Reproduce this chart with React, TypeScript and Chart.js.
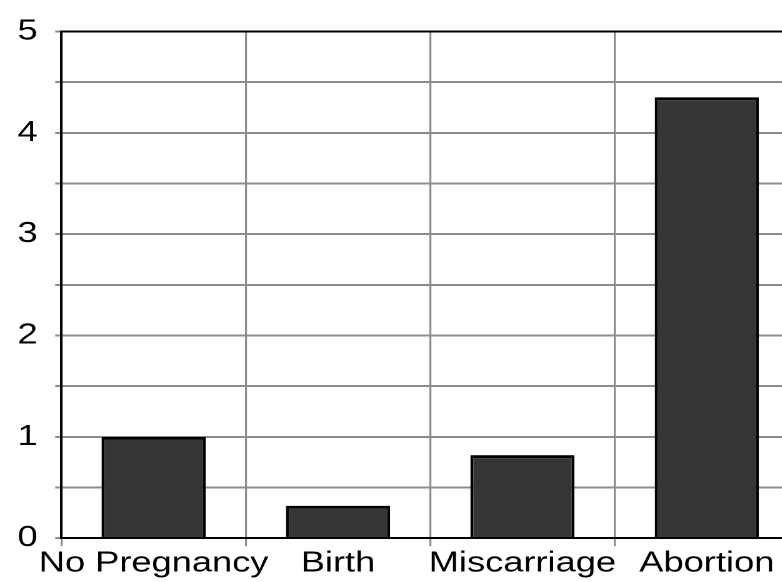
import React, { useEffect, useRef } from "react";
import { Chart, registerables } from "chart.js";

Chart.register(...registerables);

const categories = ["No Pregnancy", "Birth", "Miscarriage", "Abortion"];
const values = [1.0, 0.32, 0.82, 4.35];
const yTickLabels = ["0", "1", "2", "3", "4", "5"];

const STRETCH = 1.25;
const W = 660;
const H = 600;

export default function App() {
  const ref = useRef<HTMLCanvasElement | null>(null);

  useEffect(() => {
    if (!ref.current) return;
    const font = { family: "'Liberation Sans', Arial, sans-serif", size: 29 };
    const chart = new Chart(ref.current, {
      type: "bar",
      data: {
        labels: categories,
        datasets: [
          {
            data: values,
            backgroundColor: "#363436",
            borderColor: "#000000",
            borderWidth: { top: 3, bottom: 0, left: 2.4, right: 2.4 } as any,
            borderSkipped: false,
            categoryPercentage: 1,
            barPercentage: 0.565,
          },
        ],
      },
      options: {
        animation: false,
        responsive: false,
        devicePixelRatio: 2,
        layout: { padding: { left: 0, right: 20.8, top: 31, bottom: 19 } },
        plugins: { legend: { display: false }, tooltip: { enabled: false }, title: { display: false } },
        scales: {
          x: {
            offset: true,
            grid: {
              offset: true,
              color: "#8c8c8c",
              lineWidth: 1.6,
              tickLength: 8,
              tickColor: "#8c8c8c",
            },
            border: { display: true, color: "#000000", width: 2 },
            ticks: {
              color: "#000000",
              font,
              padding: 0,
              maxRotation: 0,
              minRotation: 0,
              autoSkip: false,
            },
          },
          y: {
            min: 0,
            max: 5,
            grid: {
              color: (ctx: any) => (ctx.tick && ctx.tick.value === 5 ? "#000000" : "#8c8c8c"),
              lineWidth: 2,
              tickLength: 5,
              tickColor: "#8c8c8c",
            },
            border: { display: true, color: "#000000", width: 2 },
            ticks: {
              stepSize: 0.5,
              color: "#000000",
              font,
              padding: 14,
              callback: (v: any) => {
                const s = String(v);
                return Number.isInteger(Number(v)) && yTickLabels.includes(s) ? s : "";
              },
            },
          },
        },
      },
    });
    return () => chart.destroy();
  }, []);

  return (
    <div
      style={{
        position: "fixed",
        left: 0,
        top: 0,
        width: 782,
        height: 582,
        overflow: "hidden",
        background: "#ffffff",
      }}
    >
      <div style={{ transform: `scaleX(${STRETCH})`, transformOrigin: "0 0", width: W, height: H }}>
        <canvas ref={ref} width={W} height={H} style={{ width: W, height: H, display: "block" }} />
      </div>
    </div>
  );
}
